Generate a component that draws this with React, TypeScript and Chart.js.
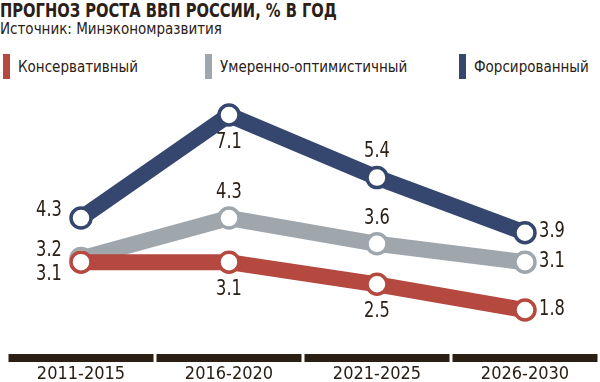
import React, { useEffect, useRef } from "react";
import { Chart, registerables } from "chart.js";

Chart.register(...registerables);

const categories = ["2011-2015", "2016-2020", "2021-2025", "2026-2030"];
const conservative = [3.1, 3.1, 2.5, 1.8];
const moderate = [3.2, 4.3, 3.6, 3.1];
const forced = [4.3, 7.1, 5.4, 3.9];
const seriesNames = ["Консервативный", "Умеренно-оптимистичный", "Форсированный"];
const seriesColors = ["#b5483f", "#9fa6ac", "#35476f"];
// label placement per series / point
const labelPlacement = [
  ["left-down", "below", "below", "right"],
  ["left-up", "above", "above", "right"],
  ["left-up", "below", "above", "right"],
];

const FONT = '"DejaVu Sans Condensed", "Liberation Sans Narrow", sans-serif';
const INK = "#2a2016";

const offsets: Record<string, [number, number]> = {
  "left-up": [-32, -8],
  "left-down": [-32, 12],
  below: [0, 27],
  above: [0, -26],
  right: [27, -1],
};

const valueLabels = {
  id: "valueLabels",
  afterDatasetsDraw(chart: any) {
    const ctx = chart.ctx;
    chart.data.datasets.forEach((ds: any, di: number) => {
      const meta = chart.getDatasetMeta(di);
      meta.data.forEach((pt: any, i: number) => {
        const [dx, dy] = offsets[labelPlacement[di][i]];
        ctx.save();
        ctx.font = `22px ${FONT}`;
        ctx.fillStyle = INK;
        ctx.textAlign = "center";
        ctx.textBaseline = "middle";
        ctx.translate(pt.x + dx, pt.y + dy);
        ctx.scale(0.82, 1);
        ctx.fillText(String(ds.data[i]), 0, 0);
        ctx.restore();
      });
    });
  },
};

const categoryBars = {
  id: "categoryBars",
  afterDraw(chart: any) {
    const ctx = chart.ctx;
    const x = chart.scales.x;
    const n = chart.data.labels.length;
    const w = x.width / n;
    ctx.save();
    ctx.fillStyle = "#2a1f12";
    for (let i = 0; i < n; i++) {
      const c = x.getPixelForTick(i);
      ctx.fillRect(c - w / 2 + 1.5, chart.chartArea.bottom + 16, w - 3, 8);
    }
    ctx.restore();
  },
};

export default function App() {
  const ref = useRef<HTMLCanvasElement>(null);
  useEffect(() => {
    const mk = (label: string, data: number[], color: string) => ({
      label,
      data,
      borderColor: color,
      backgroundColor: "#ffffff",
      borderWidth: 16,
      pointRadius: 10,
      pointBorderWidth: 3.5,
      pointBackgroundColor: "#ffffff",
      pointBorderColor: color,
      tension: 0,
      fill: false,
    });
    const chart = new Chart(ref.current!, {
      type: "line",
      data: {
        labels: categories,
        datasets: [
          mk(seriesNames[0], conservative, seriesColors[0]),
          mk(seriesNames[1], moderate, seriesColors[1]),
          mk(seriesNames[2], forced, seriesColors[2]),
        ],
      },
      options: {
        animation: false,
        responsive: false,
        layout: { autoPadding: false, padding: { top: 100, left: 7, right: 1, bottom: 0 } },
        plugins: { legend: { display: false }, tooltip: { enabled: false }, title: { display: false } },
        scales: {
          x: {
            offset: true,
            grid: { display: false, drawTicks: false, tickLength: 0 },
            border: { display: false },
            ticks: { font: { family: FONT, size: 18 }, color: INK, padding: 26, maxRotation: 0 },
            afterFit(scale: any) {
              scale.height = 44;
              scale.paddingLeft = 0;
              scale.paddingRight = 0;
            },
          },
          y: { display: false, min: 1.04, max: 7.508 },
        },
      },
      plugins: [valueLabels, categoryBars],
    });
    return () => chart.destroy();
  }, []);

  const legendPos = [3, 205, 459];
  return (
    <div style={{ position: "fixed", left: 0, top: 0, width: 600, height: 382, background: "#fff", overflow: "hidden", fontFamily: FONT, color: INK }}>
      <div style={{ position: "absolute", left: 0, top: 0, fontWeight: "bold", fontSize: 19, lineHeight: "20px", whiteSpace: "nowrap", transform: "scaleX(0.86)", transformOrigin: "left top" }}>
        ПРОГНОЗ РОСТА ВВП РОССИИ, % В ГОД
      </div>
      <div style={{ position: "absolute", left: 0, top: 20, fontSize: 15, lineHeight: "18px", whiteSpace: "nowrap" }}>
        Источник: Минэкономразвития
      </div>
      {seriesNames.map((n, i) => (
        <div key={n} style={{ position: "absolute", left: legendPos[i], top: 54, height: 25, display: "flex", alignItems: "center", whiteSpace: "nowrap" }}>
          <div style={{ width: 7, height: 25, background: seriesColors[i], marginRight: 8 }} />
          <span style={{ fontSize: 15 }}>{n}</span>
        </div>
      ))}
      <canvas ref={ref} width={600} height={382} style={{ position: "absolute", left: 0, top: 0 }} />
    </div>
  );
}
